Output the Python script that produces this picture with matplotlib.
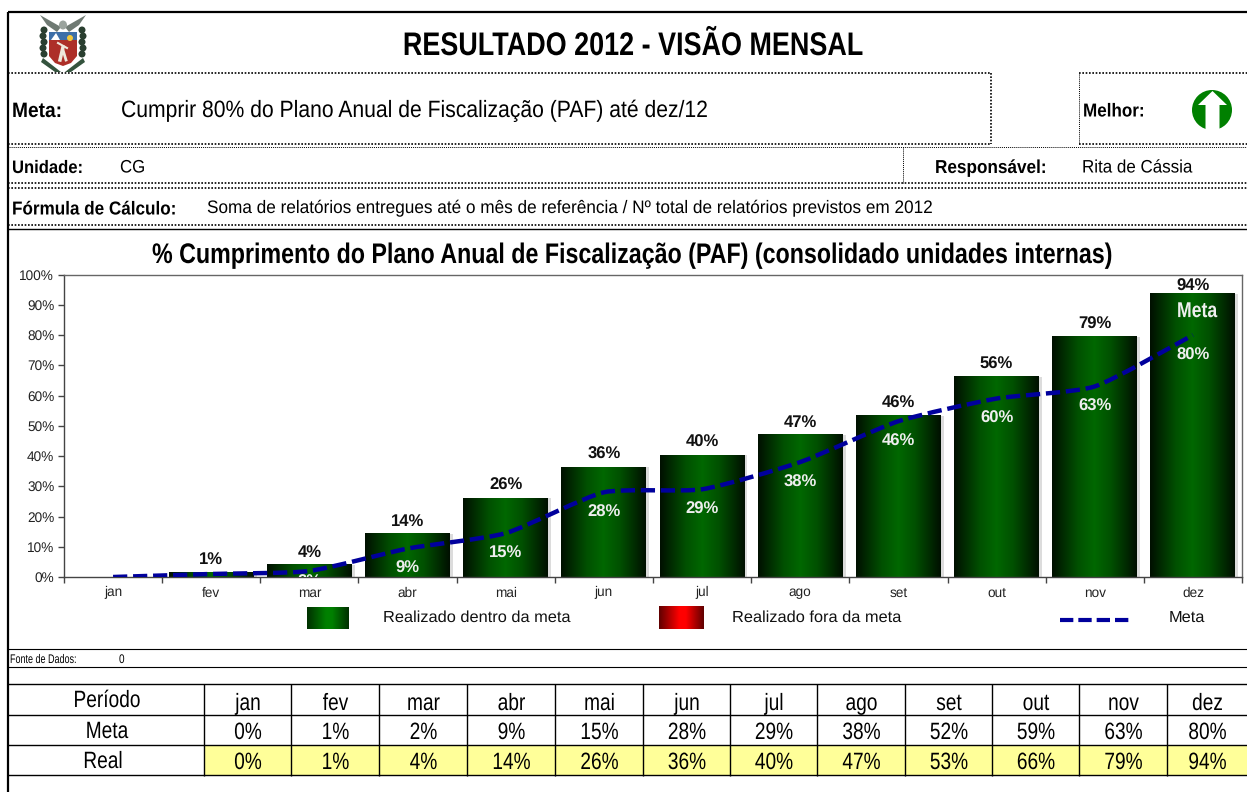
import numpy as np
import matplotlib
matplotlib.use('Agg')
import matplotlib.pyplot as plt
from matplotlib.patches import Circle, Polygon, Rectangle, Ellipse, PathPatch
from matplotlib.path import Path
from matplotlib.patheffects import AbstractPathEffect
from matplotlib.transforms import Affine2D
from matplotlib.colors import LinearSegmentedColormap

plt.rcParams['font.family'] = ['Liberation Sans', 'DejaVu Sans']
plt.rcParams['text.hinting'] = 'no_hinting'

# dados
meses = ['jan', 'fev', 'mar', 'abr', 'mai', 'jun', 'jul', 'ago', 'set', 'out', 'nov', 'dez']
real = [0, 1.5, 4, 14.3, 26, 36.3, 40.2, 47, 53.3, 66.2, 79.4, 93.7]
meta = [0, 1, 2, 9.4, 14.5, 28, 29, 38, 51.5, 59, 63, 80]
rotulos_real = ['', '1%', '4%', '14%', '26%', '36%', '40%', '47%', '46%', '56%', '79%', '94%']
rotulos_meta = ['', '', '2%', '9%', '15%', '28%', '29%', '38%', '46%', '60%', '63%', '80%']
tab_meta = ['0%', '1%', '2%', '9%', '15%', '28%', '29%', '38%', '52%', '59%', '63%', '80%']
tab_real = ['0%', '1%', '4%', '14%', '26%', '36%', '40%', '47%', '53%', '66%', '79%', '94%']

W, H = 1247, 792
fig = plt.figure(figsize=(W / 100, H / 100), dpi=100)

# folha inteira em pixels
pg = fig.add_axes([0, 0, 1, 1], zorder=3)
pg.set_xlim(0, W)
pg.set_ylim(H, 0)
pg.axis('off')
pg.patch.set_alpha(0)

verde = LinearSegmentedColormap.from_list('v', [(0, '#001000'), (0.3, '#005000'), (0.5, '#006800'), (0.7, '#005000'), (1, '#001000')])
verde2 = LinearSegmentedColormap.from_list('v2', [(0, '#003000'), (0.45, '#008000'), (0.6, '#008000'), (1, '#003000')])
verm = LinearSegmentedColormap.from_list('r', [(0, '#600000'), (0.45, '#ff0000'), (0.6, '#ff0000'), (1, '#600000')])
grad = np.linspace(0, 1, 128).reshape(1, -1)


class Estreita(AbstractPathEffect):
    # aperta o texto na horizontal em volta de x0 (pixels)
    def __init__(self, sx, x0):
        self.sx = sx
        self.x0 = x0

    def draw_path(self, renderer, gc, tpath, affine, rgbFace=None):
        aff = affine + Affine2D().translate(-self.x0, 0).scale(self.sx, 1).translate(self.x0, 0)
        renderer.draw_path(gc, tpath, aff, rgbFace)


def txt(x, y, s, fs, sx=1.0, **kw):
    return pg.text(x, y, s, fontsize=fs, path_effects=[Estreita(sx, x)], **kw)


def hl(y, x0=8, x1=W, lw=1.0, ls='-'):
    pg.plot([x0, x1], [y, y], color='k', lw=lw, ls=ls, solid_capstyle='butt')


def vl(x, y0, y1, lw=1.0, ls='-'):
    pg.plot([x, x], [y0, y1], color='k', lw=lw, ls=ls, solid_capstyle='butt')


pont = (0, (1, 1))
hl(12, 8, W, lw=1.6)
vl(8, 12, H, lw=1.6)
hl(73, 8, 991, lw=1.2, ls=pont)
hl(73, 1079, W, lw=1.2, ls=pont)
hl(143.5, 8, 991, lw=1.2, ls=pont)
hl(143.5, 1079, W, lw=1.2, ls=pont)
hl(147, lw=0.7, ls=pont)
hl(183, lw=1.2, ls=pont)
hl(188, lw=1.2, ls=pont)
hl(225, lw=1.2, ls=pont)
hl(229, lw=1.0)
vl(991, 73, 144, lw=1.2, ls=pont)
vl(1079, 73, 144, lw=0.7, ls=pont)
vl(903, 147, 183, lw=0.7, ls=pont)
hl(648.5, lw=0.8)
hl(667, lw=0.8)

# cabecalho
txt(633, 55, 'RESULTADO 2012 - VISÃO MENSAL', 23.5, 0.826, fontweight='bold', ha='center')
txt(12, 117, 'Meta:', 15, 0.92, fontweight='bold')
txt(121, 117, 'Cumprir 80% do Plano Anual de Fiscalização (PAF) até dez/12', 17, 0.895)
txt(1083, 116.5, 'Melhor:', 13.5, 0.91, fontweight='bold')
txt(12, 173, 'Unidade:', 13, 0.92, fontweight='bold')
txt(120, 172.5, 'CG', 13, 0.93)
txt(935, 173, 'Responsável:', 13.5, 0.915, fontweight='bold')
txt(1082, 172.5, 'Rita de Cássia', 13, 0.94)
txt(12, 214.5, 'Fórmula de Cálculo:', 13.5, 0.912, fontweight='bold')
txt(207, 213, 'Soma de relatórios entregues até o mês de referência / Nº total de relatórios previstos em 2012',
    13, 0.952)
txt(633, 263, '% Cumprimento do Plano Anual de Fiscalização (PAF) (consolidado unidades internas)',
    20.4, 0.82, fontweight='bold', ha='center')

# seta verde
pg.add_patch(Circle((1212, 110), 20, color='#008000', lw=0))
pg.add_patch(Polygon([(1212.5, 91), (1227, 105), (1219.5, 105), (1219.5, 131), (1205.5, 131), (1205.5, 105), (1198, 105)],
                     color='white', lw=0))

# brasao simplificado
cx = 63
for sx in (-1, 1):
    pg.add_patch(Polygon([(cx + sx * 2, 27), (cx + sx * 23, 15), (cx + sx * 16, 25), (cx + sx * 6, 32)], color='#6f7a73', lw=0))
    for k, yy in enumerate(range(30, 60, 6)):
        pg.add_patch(Ellipse((cx + sx * (19 + (k % 2)), yy), 7, 7, color='#2a3f30', lw=0))
    pg.add_patch(Polygon([(cx + sx * 20, 58), (cx + sx * 2, 72), (cx + sx * 8, 72), (cx + sx * 22, 62)], color='#34533d', lw=0))
pg.add_patch(Ellipse((cx, 25), 8, 9, color='#9aa39d', lw=0))
pg.add_patch(Polygon([(cx - 14, 32), (cx + 14, 32), (cx + 14, 56), (cx + 8, 63), (cx, 66), (cx - 8, 63), (cx - 14, 56)],
                     color='#ad2f28', lw=0))
pg.add_patch(Rectangle((cx - 14, 32), 28, 8, color='#3d6fa8', lw=0))
pg.add_patch(Polygon([(cx - 12, 40), (cx - 7, 33), (cx - 3, 40)], color='white', lw=0))
pg.add_patch(Circle((cx + 7, 38), 3, color='#f2c83a', lw=0))
pg.plot([cx - 5, cx + 4], [43, 48], color='#eee8dc', lw=1.5)
pg.plot([cx, cx - 3], [47, 60], color='#eee8dc', lw=2.5)
pg.plot([cx, cx + 3], [50, 60], color='#eee8dc', lw=2)

# legenda
pg.imshow(grad, cmap=verde2, extent=(307, 349, 629, 607), aspect='auto')
pg.imshow(grad, cmap=verm, extent=(659, 704, 629, 606), aspect='auto')
pg.set_xlim(0, W)
pg.set_ylim(H, 0)
pg.text(383, 618, 'Realizado dentro da meta', fontsize=11.8, color='#111111', va='center')
pg.text(732, 618, 'Realizado fora da meta', fontsize=11.8, color='#111111', va='center')
pg.plot([1060, 1132], [620, 620], color='#00009c', lw=3, ls=(0, (3.2, 1.2)))
pg.text(1169, 618, 'Meta', fontsize=11.8, color='#111111', va='center')
txt(10, 663, 'Fonte de Dados:', 9, 0.72)
txt(119, 663, '0', 9, 0.8)

# tabela
cols = [8, 204, 291, 379, 467, 555, 643, 730, 817, 905, 992, 1079, 1167, 1247]
lins = [684, 715, 745, 775]
for i in range(12):
    pg.add_patch(Rectangle((cols[i + 1], lins[2]), cols[i + 2] - cols[i + 1], lins[3] - lins[2], color='#ffff99', lw=0))
for y in lins:
    hl(y, lw=1.0)
for x in cols[1:-1]:
    vl(x, lins[0], lins[3] + 1, lw=1.0)
for yb, yn, xn, nome, vals in zip([710, 739, 769], [707, 738, 768], [107, 107, 103],
                                  ['Período', 'Meta', 'Real'], [meses, tab_meta, tab_real]):
    txt(xn, yn, nome, 17, 0.81, ha='center')
    for i, v in enumerate(vals):
        txt((cols[i + 1] + cols[i + 2]) / 2 + 0.5, yb, v, 17, 0.81, ha='center')

# grafico
L, R, T, B = 64, 1242, 274.5, 577
ax = fig.add_axes([L / W, 1 - B / H, (R - L) / W, (B - T) / H], zorder=2)
x = np.arange(12)
larg = 0.865
ax.bar(x + 0.03, real, larg, color='#dcdcdc', zorder=1)
barras = ax.bar(x, real, larg, color='none', zorder=2)
for b in barras:
    if b.get_height() <= 0:
        continue
    ax.imshow(grad, cmap=verde, aspect='auto', zorder=2,
              extent=(b.get_x(), b.get_x() + b.get_width(), 0, b.get_height()))

# linha suavizada pelos pontos da meta
vx, vy = x.astype(float), np.array(meta, dtype=float)
verts = [(vx[0], vy[0])]
cods = [Path.MOVETO]
for i in range(11):
    p0 = i - 1 if i > 0 else 0
    p3 = i + 2 if i < 10 else 11
    verts += [(vx[i] + (vx[i + 1] - vx[p0]) / 10, vy[i] + (vy[i + 1] - vy[p0]) / 10),
              (vx[i + 1] - (vx[p3] - vx[i]) / 10, vy[i + 1] - (vy[p3] - vy[i]) / 10),
              (vx[i + 1], vy[i + 1])]
    cods += [Path.CURVE4] * 3
ax.add_patch(PathPatch(Path(verts, cods), fc='none', ec='#00009c', lw=3.2, ls=(0, (3.2, 1.3)), zorder=4))

ax.set_xlim(-0.5, 11.5)
ax.set_ylim(0, 100)
ax.set_yticks(range(0, 101, 10))
ax.set_yticklabels([f'{v}%' for v in range(0, 101, 10)], fontsize=9.8, color='#222222')
ax.set_xticks(np.arange(-0.5, 12, 1))
ax.set_xticklabels([])
ax.tick_params(axis='x', length=4, width=1, color='#444444', direction='out')
ax.tick_params(axis='y', length=4, width=1, color='#444444', direction='out', pad=3)
for i, m in enumerate(meses):
    ax.annotate(m, (i, 0), xytext=(0, -14), textcoords='offset points', ha='center', va='baseline',
                fontsize=9.8, color='#222222', annotation_clip=False)
for s in ax.spines.values():
    s.set_color('#666666')
    s.set_linewidth(1.0)
ax.spines['left'].set_color('#444444')
ax.spines['bottom'].set_color('#444444')

for i in range(12):
    if rotulos_real[i]:
        ax.annotate(rotulos_real[i], (i, real[i]), xytext=(0, 9 if i < 11 else 5), textcoords='offset points',
                    ha='center', va='center', fontsize=12, fontweight='bold', color='#111111', zorder=6,
                    annotation_clip=False)
    if rotulos_meta[i]:
        dy = -8 if i == 2 else -14.5
        ax.annotate(rotulos_meta[i], (i, meta[i]), xytext=(0, dy), textcoords='offset points', ha='center', va='center',
                    fontsize=12, fontweight='bold', color='#eeeeee', zorder=6, clip_on=True)
cxm = ax.transData.transform((11, 0))[0] + 4
ax.annotate('Meta', (11, 80), xytext=(3, 17), textcoords='offset points', ha='center', va='center',
            fontsize=15.5, fontweight='bold', color='#eeeeee', zorder=6,
            path_effects=[Estreita(0.82, cxm)])

fig.savefig('out.png', dpi=100)
